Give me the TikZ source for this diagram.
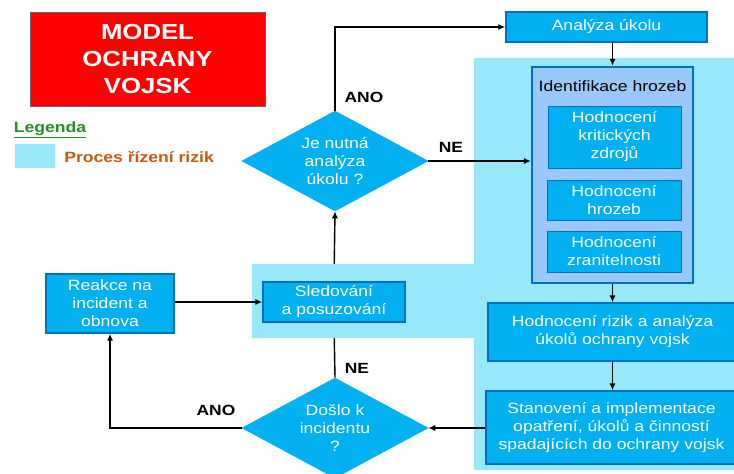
\documentclass[tikz,border=0pt]{standalone}
\usepackage{fontspec}
\setmainfont{Liberation Sans}[FakeStretch=1.18]
\usetikzlibrary{shapes.geometric,arrows.meta}
\pgfdeclarelayer{bottom}
\pgfdeclarelayer{background}
\pgfsetlayers{bottom,background,main}
\definecolor{boxblue}{RGB}{0,176,240}
\definecolor{edgeblue}{RGB}{0,112,192}
\definecolor{riskcyan}{RGB}{150,232,250}
\definecolor{identblue}{RGB}{155,200,250}
\definecolor{legendgreen}{RGB}{40,140,40}
\definecolor{legendorange}{RGB}{197,90,17}

\begin{document}
\begin{tikzpicture}[x=0.025cm, y=-0.025cm,
    bodyfont/.style={font=\fontsize{10.6}{12.8}\selectfont},
    procbox/.style={rectangle, fill=boxblue, draw=edgeblue, line width=1pt, text=white, align=center, inner sep=0pt, bodyfont},
    decision/.style={diamond, fill=boxblue, draw=boxblue, text=white, align=center, inner sep=0pt, shape aspect=1.88, minimum width=4.65cm, minimum height=2.5cm, bodyfont},
    answer/.style={font=\fontsize{10.5}{12}\selectfont\bfseries},
    flow/.style={-{Latex[length=5pt,width=4.5pt]}, line width=1pt}
]
    \useasboundingbox (0,0) rectangle (734,473);

    % Title
    \node[rectangle, fill=red, draw=black!60, minimum width=5.875cm, minimum height=2.35cm, text=white, align=center, font=\fontsize{15.5}{19}\selectfont\bfseries] (title) at (147.5,59) {MODEL\\OCHRANY\\VOJSK};

    % Legend
    \node[text=legendgreen, font=\fontsize{10.6}{12}\selectfont\bfseries] (legend) at (50,130) {\underline{Legenda}};
    \node[rectangle, fill=riskcyan, minimum width=1cm, minimum height=0.6cm, inner sep=0pt] (legbox) at (35,156) {};
    \node[anchor=west, inner sep=0pt, text=legendorange, font=\fontsize{10.6}{12}\selectfont\bfseries] (legtext) at (64,157) {Proces řízení rizik};

    % Risk process area
    \begin{pgfonlayer}{background}
        \fill[riskcyan] (474,58) -- (737,58) -- (737,470) -- (474,470) -- (474,338) -- (252,338) -- (252,264) -- (474,264) -- cycle;
    \end{pgfonlayer}

    % Boxes
    \node[procbox, minimum width=5.025cm, minimum height=0.75cm] (ana) at (606.5,27) {Analýza úkolu};
    \node[rectangle, fill=identblue, draw=edgeblue, line width=1.6pt, minimum width=4.025cm, minimum height=5.4cm] (ident) at (612.5,175) {};
    \node[bodyfont] (identtitle) at (612.5,86) {Identifikace hrozeb};
    \node[procbox, line width=0.5pt, minimum width=3.325cm, minimum height=1.55cm] (zdroje) at (614.5,137) {Hodnocení\\kritických\\zdrojů};
    \node[procbox, line width=0.5pt, minimum width=3.35cm, minimum height=1cm] (hrozby) at (614,200) {Hodnocení\\hrozeb};
    \node[procbox, line width=0.5pt, minimum width=3.35cm, minimum height=1.025cm] (zranit) at (614,251.5) {Hodnocení\\zranitelnosti};
    \node[procbox, minimum width=6.225cm, minimum height=1.45cm] (rizika) at (612.5,332) {Hodnocení rizik a analýza\\úkolů ochrany vojsk};
    \node[procbox, minimum width=6.275cm, minimum height=1.825cm] (opatreni) at (611.5,427.5) {Stanovení a implementace\\opatření, úkolů a činností\\spadajících do ochrany vojsk};
    \node[procbox, minimum width=3.55cm, minimum height=1cm] (sled) at (334,302) {Sledování\\a posuzování};
    \node[procbox, minimum width=3.2cm, minimum height=1.475cm] (reakce) at (110,303.5) {Reakce na\\incident a\\obnova};

    % Decisions
    \node[decision] (nutna) at (335,161) {Je nutná\\analýza\\úkolu ?};
    \node[decision] (doslo) at (335,428) {Došlo k\\incidentu\\?};

    % Connectors
    \draw[flow] (nutna.north) |- (ana.west);
    \draw[flow] (ident.north |- ana.south) -- (ident.north);
    \draw[flow] (nutna.east) -- (nutna.east -| ident.west);
    \draw[flow] (ident.south) -- (rizika.north);
    \draw[flow] (rizika.south) -- (rizika.south |- opatreni.north);
    \draw[flow] (opatreni.west |- doslo.east) -- (doslo.east);
    \draw[flow] (doslo.west) -| (reakce.south);
    \draw[flow] (reakce.east |- sled.west) -- (sled.west);
    \begin{pgfonlayer}{bottom}
        \draw[flow] (sled.north) -- (nutna.south);
        \draw[line width=1pt] (doslo.north) -- (sled.south);
    \end{pgfonlayer}

    % Answers
    \node[answer] (ano1) at (364,97) {ANO};
    \node[answer] (ne1) at (451,147) {NE};
    \node[answer] (ne2) at (357,368) {NE};
    \node[answer] (ano2) at (216,410) {ANO};
\end{tikzpicture}
\end{document}
